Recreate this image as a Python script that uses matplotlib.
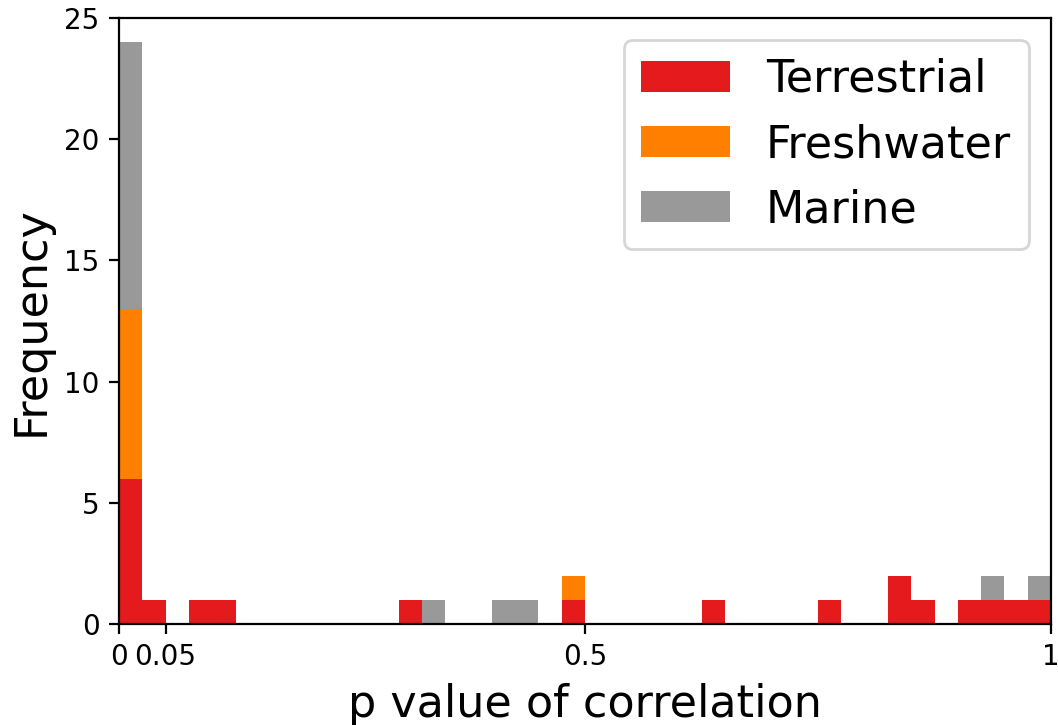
import numpy as np
import matplotlib
matplotlib.use("Agg")
import matplotlib.pyplot as plt

# Bin edges: 40 equal bins over [0, 1]
n_bins = 40
edges = np.linspace(0.0, 1.0, n_bins + 1)

# Counts per bin for each habitat
terrestrial = [6, 1, 0, 1, 1, 0, 0, 0, 0, 0,
               0, 0, 1, 0, 0, 0, 0, 0, 0, 1,
               0, 0, 0, 0, 0, 1, 0, 0, 0, 0,
               1, 0, 0, 2, 1, 0, 1, 1, 1, 1]
freshwater = [7, 0, 0, 0, 0, 0, 0, 0, 0, 0,
              0, 0, 0, 0, 0, 0, 0, 0, 0, 1,
              0, 0, 0, 0, 0, 0, 0, 0, 0, 0,
              0, 0, 0, 0, 0, 0, 0, 0, 0, 0]
marine = [11, 0, 0, 0, 0, 0, 0, 0, 0, 0,
          0, 0, 0, 1, 0, 0, 1, 1, 0, 0,
          0, 0, 0, 0, 0, 0, 0, 0, 0, 0,
          0, 0, 0, 0, 0, 0, 0, 1, 0, 1]

labels = ["Terrestrial", "Freshwater", "Marine"]
colors = ["#e41a1c", "#ff7f00", "#999999"]

xtick_values = [0, 0.05, 0.5, 1]
xtick_labels = ["0", "0.05", "0.5", "1"]

centers = 0.5 * (edges[:-1] + edges[1:])

fig = plt.figure(figsize=(5.29, 3.625), dpi=200)
ax = fig.add_axes([0.1125, 0.1393, 0.8809, 0.8359])

ax.hist([centers, centers, centers], bins=edges,
        weights=[terrestrial, freshwater, marine],
        stacked=True, color=colors, label=labels)

ax.set_xlim(0, 1)
ax.set_ylim(0, 25)
ax.set_xticks(xtick_values)
ax.set_xticklabels(xtick_labels)
ax.set_yticks([0, 5, 10, 15, 20, 25])

ax.set_xlabel("p value of correlation", fontsize=16)
ax.set_ylabel("Frequency", fontsize=16)
ax.legend(loc="upper right", fontsize=16)

fig.savefig("out.png", dpi=200)
